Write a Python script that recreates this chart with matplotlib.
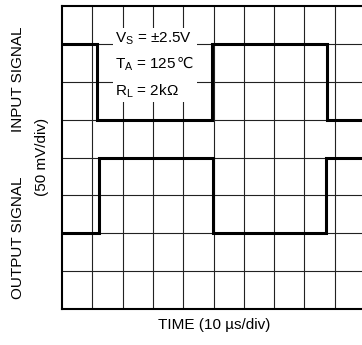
import matplotlib.pyplot as plt
from matplotlib.patches import Rectangle

plt.rcParams['font.family'] = ['Liberation Sans', 'DejaVu Sans']
plt.rcParams['mathtext.fontset'] = 'custom'
plt.rcParams['mathtext.rm'] = 'Liberation Sans'

# step signals, in scope divisions
in_edges = [0, 1.15, 4.95, 8.75, 10]
in_levels = [7, 5, 7, 5]
out_edges = [0, 1.22, 4.97, 8.72, 10]
out_levels = [2, 4, 2, 4]

conditions = [r'V$_\mathregular{S}$ = ±2.5V',
              r'T$_\mathregular{A}$ = 125',
              r'R$_\mathregular{L}$ = 2kΩ']
suffixes = ['', '℃', '']

W, H = 362, 345
fig = plt.figure(figsize=(W / 100, H / 100), dpi=100)
x0, x1 = 62, 365
y0, y1 = 6, 309
ax = fig.add_axes([x0 / W, 1 - y1 / H, (x1 - x0) / W, (y1 - y0) / H])
ax.set_xlim(0, 10)
ax.set_ylim(0, 8)

# scope grid
for i in range(1, 10):
    ax.axvline(i, color='#222222', lw=0.8, zorder=1)
for j in range(1, 8):
    ax.axhline(j, color='#222222', lw=0.8, zorder=1)
for s in ax.spines.values():
    s.set_linewidth(1.5)
ax.set_xticks([])
ax.set_yticks([])

# label block
ax.add_patch(Rectangle((1.68, 5.46), 2.78, 1.95, facecolor='white',
                       edgecolor='none', zorder=2))
for k, txt in enumerate(conditions):
    t = ax.text(1.75, 7.15 - k * 0.70, txt, fontsize=11, va='center',
                ha='left', zorder=3)
    if suffixes[k]:
        fig.canvas.draw()
        bb = t.get_window_extent()
        fig.text((bb.x1 + 0.2) / fig.dpi / fig.get_figwidth(),
                 ((bb.y0 + bb.y1) / 2 + 1.5) / fig.dpi / fig.get_figheight(),
                 suffixes[k], fontsize=10.5, family='DejaVu Sans',
                 ha='left', va='center', zorder=3)

ax.stairs(in_levels, in_edges, baseline=None, color='black', lw=2.2, zorder=4)
ax.stairs(out_levels, out_edges, baseline=None, color='black', lw=2.2, zorder=4)

fig.text(18 / W, 1 - 79 / H, 'INPUT SIGNAL', rotation=90, fontsize=11,
         ha='center', va='center')
fig.text(18 / W, 1 - 238 / H, 'OUTPUT SIGNAL', rotation=90, fontsize=11,
         ha='center', va='center')
fig.text(42 / W, 1 - 157 / H, '(50 mV/div)', rotation=90, fontsize=11,
         ha='center', va='center')
fig.text(214 / W, 1 - 325 / H, 'TIME (10 µs/div)', fontsize=11,
         ha='center', va='center')

fig.savefig('out.png', dpi=100)
